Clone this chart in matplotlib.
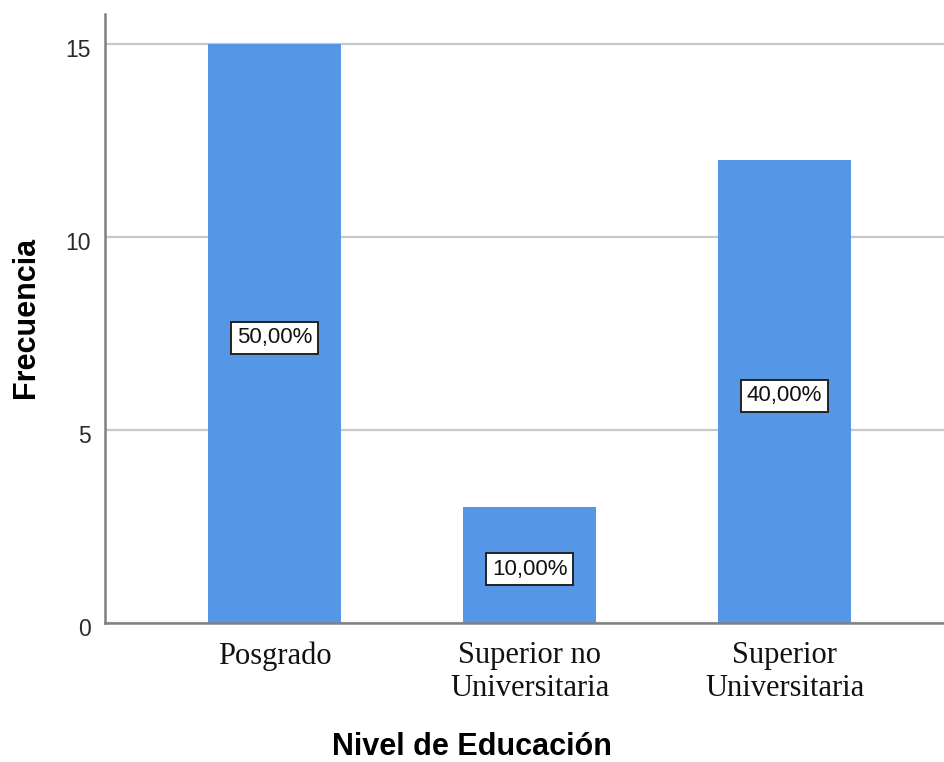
import matplotlib
matplotlib.use("Agg")
import matplotlib.pyplot as plt
from matplotlib.transforms import ScaledTranslation

categories = ["Posgrado", "Superior no\nUniversitaria", "Superior\nUniversitaria"]
counts = [15, 3, 12]
percent_labels = ["50,00%", "10,00%", "40,00%"]
y_ticks = [0, 5, 10, 15]

bar_color = "#5596E6"

fig = plt.figure(figsize=(9.44, 7.62), dpi=100)
ax = fig.add_axes([105 / 944, 139 / 762, 839 / 944, 609 / 762])

x = list(range(len(categories)))
ax.bar(x, counts, width=0.52, color=bar_color, zorder=2)

ax.set_xlim(-0.665, 2.625)
ax.set_ylim(0, 15.78)

ax.set_yticks(y_ticks)
ax.set_yticklabels([str(v) for v in y_ticks], fontsize=16.5,
                   family="Liberation Sans", color="#2a2a2a")
ax.set_xticks(x)
ax.set_xticklabels(categories, fontsize=22, family="Liberation Serif",
                   color="#111111", linespacing=1.2)
ax.tick_params(axis="both", length=0)
ax.tick_params(axis="y", pad=10)
ax.tick_params(axis="x", pad=13)

# nudge the value labels on the y axis slightly below their gridlines
down = ScaledTranslation(0, -4 / 100, fig.dpi_scale_trans)
for lbl in ax.get_yticklabels():
    lbl.set_transform(lbl.get_transform() + down)

ax.grid(axis="y", color="#c8c8c8", linewidth=1.6, zorder=0)
ax.set_axisbelow(True)

for side in ["top", "right"]:
    ax.spines[side].set_visible(False)
for side in ["left", "bottom"]:
    ax.spines[side].set_color("#808080")
    ax.spines[side].set_linewidth(1.8)
    ax.spines[side].set_zorder(3)

for xi, c, lab in zip(x, counts, percent_labels):
    ax.annotate(lab, xy=(xi, c / 2), xytext=(0, -3), textcoords="offset points",
                ha="center", va="center", fontsize=16,
                family="Liberation Sans", color="#111111", zorder=4,
                bbox=dict(boxstyle="square,pad=0.25", facecolor="white",
                          edgecolor="#222222", linewidth=1.4))

fig.text(26 / 944, 1 - 317 / 762, "Frecuencia", rotation=90, ha="center",
         va="center", fontsize=22, fontweight="bold", family="Liberation Sans")
fig.text(0.5, 1 - 747 / 762, "Nivel de Educación", ha="center", va="center",
         fontsize=22, fontweight="bold", family="Liberation Sans")

fig.savefig("out.png", dpi=100, facecolor="white")
